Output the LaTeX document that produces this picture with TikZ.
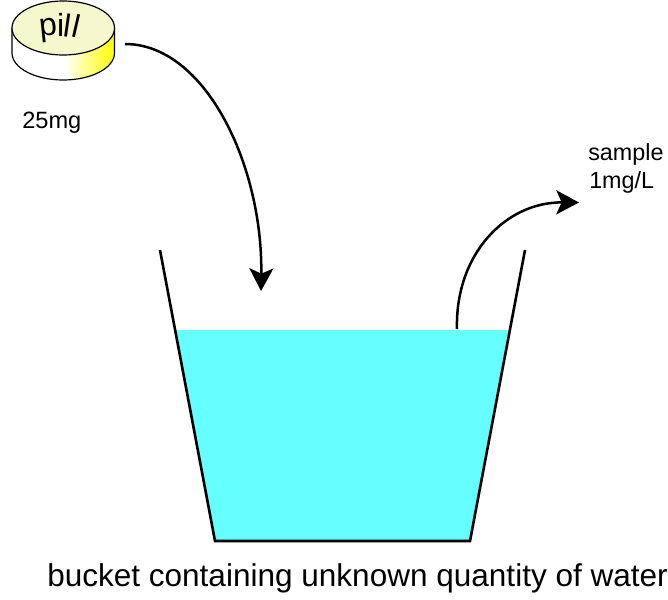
\documentclass[tikz,border=0pt]{standalone}
\usepackage{fontspec}
\setmainfont{Liberation Sans}
\usetikzlibrary{arrows.meta,shapes.geometric}
\definecolor{water}{HTML}{66FFFF}
\definecolor{pilltop}{HTML}{F5F8CC}
\tikzset{
  flow/.style={line width=2.5pt*0.75,-{Stealth[length=17pt,width=18pt,inset=4pt]}},
  wall/.style={line width=2.6pt*0.75,line cap=butt,line join=miter},
  label/.style={inner sep=0pt,anchor=base west,text=black},
}
\begin{document}
\begin{tikzpicture}[x=0.75pt,y=-0.75pt]
\useasboundingbox (0,0) rectangle (668,600);
% water and bucket
\fill[water] (176,330) -- (510,330) -- (470,541) -- (215,541) -- cycle;
\draw[wall] (160,250) -- (215,541) -- (470,541) -- (525,250);
% pill side
\begin{scope}
\clip (12,28) -- (12,53) arc[start angle=180,end angle=0,x radius=51.25,y radius=27] -- (114.5,28) -- cycle;
\fill[white] (0,0) rectangle (120,90);
\shade[left color=white,right color=yellow] (64,20) rectangle (114.5,90);
\end{scope}
\draw[line width=0.9pt] (12,28) -- (12,53) arc[start angle=180,end angle=0,x radius=51.25,y radius=27] -- (114.5,28);
% pill top
\node[draw,ellipse,fill=pilltop,line width=0.9pt,minimum width=76.9pt,minimum height=40.5pt,inner sep=0pt] (pilltop) at (63.25,28) {};
\node[inner sep=0pt] (pilltext) at (60.5,28) {\fontsize{24pt}{28pt}\selectfont\rotatebox{6}{p}\hspace{-1pt}\rotatebox{0}{i}\hspace{-1pt}\rotatebox{-8}{l}\hspace{-2pt}\rotatebox{-13}{l}};
% labels
\node[label,font=\fontsize{17.7pt}{20pt}\selectfont] (dose) at (22,128) {25mg};
\node[label,font=\fontsize{17.5pt}{20pt}\selectfont] (sample) at (588,160.5) {sample};
\node[label,font=\fontsize{17.5pt}{20pt}\selectfont] (conc) at (589,188.5) {1mg/L};
\node[label,font=\fontsize{23.65pt}{28pt}\selectfont] (caption) at (47,586) {bucket containing unknown quantity of water};
% arrows
\coordinate (a1s) at (125,44);
\coordinate (a1e) at (261,291);
\coordinate (a2s) at (457,329);
\coordinate (a2e) at (579,202.5);
\draw[flow] (a1s) .. controls (205,44) and (263,165) .. (a1e);
\draw[flow] (a2s) .. controls (455,255) and (505,202) .. (a2e);
\end{tikzpicture}
\end{document}
